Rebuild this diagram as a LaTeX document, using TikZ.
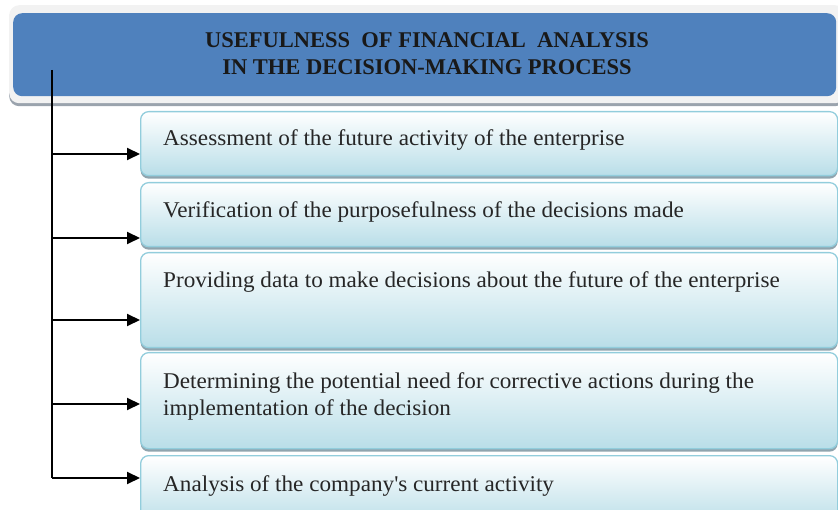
\documentclass[tikz,border=0pt]{standalone}
\usepackage{fontspec}
\setmainfont{Liberation Serif}
\newfontfamily\bodyfont[FakeStretch=1.03]{Liberation Serif}
\usetikzlibrary{arrows.meta,shadows}
\definecolor{hblue}{HTML}{4F81BD}
\definecolor{frameg}{HTML}{F2F2F2}
\definecolor{frameshadow}{HTML}{9AA3AD}
\definecolor{boxedge}{HTML}{92CDDC}
\definecolor{boxbot}{HTML}{B9DEE8}
\definecolor{boxshadow}{HTML}{8FA4AE}
\begin{document}
\begin{tikzpicture}[x=1pt,y=-1pt,
  itembox/.style={draw=boxedge, line width=1.3pt, rounded corners=8pt,
    top color=white, bottom color=boxbot, anchor=north west, inner sep=0pt,
    drop shadow={shadow xshift=0pt, shadow yshift=-3pt, fill=boxshadow, opacity=1}},
  itemtext/.style={anchor=base west, inner sep=0pt, align=left,
    font=\bodyfont\fontsize{22.5}{27}\selectfont, text=black!85},
  conn/.style={line width=2pt, black},
  arr/.style={conn, -{Triangle[length=13pt,width=12pt]}}
]
\useasboundingbox (0,0) rectangle (838,510);
% header
\node[anchor=north west, minimum width=836pt, minimum height=98pt, inner sep=0pt,
  fill=frameg, rounded corners=10pt,
  drop shadow={shadow xshift=0pt, shadow yshift=-3pt, fill=frameshadow, opacity=1}] (frame) at (9,5) {};
\node[anchor=north west, minimum width=823pt, minimum height=83pt, inner sep=0pt,
  fill=hblue, rounded corners=9pt] (head) at (13,13) {};
\node[align=center, font=\fontsize{22.5}{27}\selectfont\bfseries, text=black!90, anchor=base, inner sep=0pt]
  (htext) at (427,75) {USEFULNESS\ \ OF FINANCIAL\ \ ANALYSIS\\IN THE DECISION-MAKING PROCESS};
% boxes
\node[itembox, minimum width=697pt, minimum height=64pt] (b1) at (140,111) {};
\node[itembox, minimum width=697pt, minimum height=64pt] (b2) at (140,182) {};
\node[itembox, minimum width=697pt, minimum height=95pt] (b3) at (140,252) {};
\node[itembox, minimum width=697pt, minimum height=96pt] (b4) at (140,352) {};
\node[itembox, minimum width=697pt, minimum height=70pt] (b5) at (140,455) {};
\node[itemtext] (t1) at (163,146) {Assessment of the future activity of the enterprise};
\node[itemtext] (t2) at (163,218) {Verification of the purposefulness of the decisions made};
\node[itemtext] (t3) at (163,288) {Providing data to make decisions about the future of the enterprise};
\node[itemtext] (t4) at (163,415) {Determining the potential need for corrective actions during the\\implementation of the decision};
\node[itemtext] (t5) at (163,491) {Analysis of the company\textquotesingle s current activity};
% connectors
\coordinate (top) at (52,70);
\coordinate (j1) at (52,154);
\coordinate (j2) at (52,238);
\coordinate (j3) at (52,320);
\coordinate (j4) at (52,404);
\coordinate (j5) at (52,478);
\draw[conn] (top) -- (j5);
\draw[arr] (j1) -- (j1 -| b1.west);
\draw[arr] (j2) -- (j2 -| b2.west);
\draw[arr] (j3) -- (j3 -| b3.west);
\draw[arr] (j4) -- (j4 -| b4.west);
\draw[arr] (j5) -- (j5 -| b5.west);
\end{tikzpicture}
\end{document}
